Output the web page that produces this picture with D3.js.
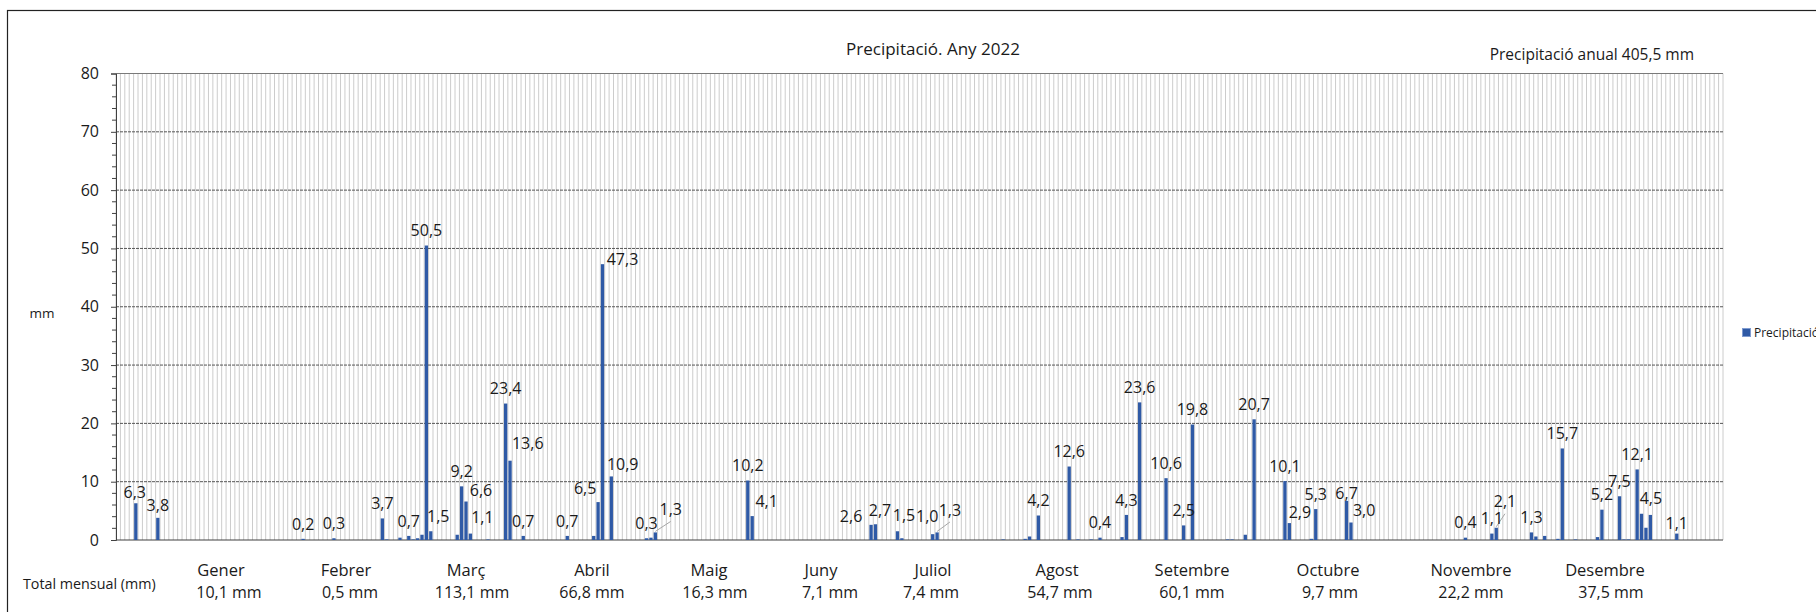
<!DOCTYPE html>
<html><head><meta charset="utf-8">
<script src="https://cdn.jsdelivr.net/npm/d3@7"></script>
<style>
body{margin:0;background:#fff}
svg{display:block}
text{font-family:"Open Sans","Noto Sans",sans-serif;fill:#1a1a1a}
</style>
</head><body>
<svg id="chart" width="1816" height="612"></svg>
<script>
// ---------------- DATA ----------------
const year = 2022;
const chartTitle = "Precipitació. Any 2022";
const annualLabel = "Precipitació anual";
const annualTotal = 405.5;
const seriesName = "Precipitació";
const yAxisTitle = "mm";
const totalsTitle = "Total mensual (mm)";
const months = ["Gener","Febrer","Març","Abril","Maig","Juny","Juliol","Agost","Setembre","Octubre","Novembre","Desembre"];
const monthTotals = [10.1,0.5,113.1,66.8,16.3,7.1,7.4,54.7,60.1,9.7,22.2,37.5];
const yTicks = [0,10,20,30,40,50,60,70,80];

// rainy days (MM-DD) and daily precipitation (mm); all other days are 0
const rainDates = [
 "01-05","01-10",
 "02-12","02-19",
 "03-02","03-03","03-06","03-08","03-09","03-10","03-11","03-12","03-13","03-19","03-20","03-21","03-22","03-26","03-30","03-31",
 "04-03","04-13","04-19","04-20","04-21","04-23",
 "05-01","05-02","05-03","05-24","05-25",
 "06-21","06-22","06-27","06-28",
 "07-05","07-06","07-21","07-26","07-27","07-29",
 "08-05","08-07","08-10","08-12","08-17","08-18","08-21","08-27","08-31",
 "09-02","09-10","09-11","09-14","09-16","09-23","09-24","09-29","09-30",
 "10-07","10-08",
 "11-03","11-09","11-10","11-18","11-19","11-21","11-24","11-25","11-28",
 "12-03","12-04","12-08","12-09","12-10","12-12","12-13","12-14","12-15","12-21"
];
const rainMm = [
 6.3,3.8,
 0.2,0.3,
 3.7,0.1,0.4,0.7,0.1,0.3,0.9,50.5,1.5,0.9,9.2,6.6,1.1,0.1,23.4,13.6,
 0.7,0.7,0.7,6.5,47.3,10.9,
 0.3,0.4,1.3,10.2,4.1,
 2.6,2.7,1.5,0.3,
 1.0,1.3,0.1,0.2,0.6,4.2,
 12.6,0.1,0.1,0.4,0.5,4.3,23.6,10.6,2.5,
 19.8,0.1,0.1,0.9,20.7,10.1,2.9,0.2,5.3,
 6.7,3.0,
 0.4,1.1,2.1,1.3,0.6,0.7,0.2,15.7,0.1,
 0.5,5.2,7.5,0.1,0.1,12.1,4.5,2.1,4.3,1.1
];
// days that carry a value label
const labeledDates = [
 "01-05","01-10","02-12","02-19","03-02","03-08","03-12","03-13","03-20","03-21","03-22","03-30","03-31",
 "04-03","04-13","04-20","04-21","04-23","05-01","05-03","05-24","05-25","06-21","06-22","06-27",
 "07-05","07-06","07-29","08-05","08-12","08-18","08-21","08-27","08-31","09-02","09-16","09-23","09-24","09-30",
 "10-07","10-08","11-03","11-09","11-10","11-18","11-25","12-04","12-08","12-12","12-13","12-21"
];

// ---------------- LAYOUT ----------------
const W = 1816, H = 612;
const plot = {left:116, right:1723, top:73.5, bottom:540};
const barColor = "#2f5aa6";
// manual label displacements [dx, dy, leaderLine]
const labelShift = {
 "01-05":[-1,4],"01-10":[0,2],"03-13":[7.5,0],"03-21":[15,4],"03-22":[12,-1],"03-31":[17.7,-2.4],
 "04-20":[-13,1],"04-21":[20,10],"04-23":[11.4,3],"05-03":[15.4,-8,true],"05-25":[14.5,0],
 "06-21":[-20,6],"06-22":[4.5,0.7],"06-27":[6.5,-1],"07-05":[-5.5,-2.5],"07-06":[12.8,-7.4,true],
 "09-24":[10.6,4.6],"10-07":[0,7.4],"10-08":[13.2,3.2],"11-10":[8.7,-11,true],"12-13":[9.4,0],"12-21":[0,4.7]
};
const monthNameX  = [221,346,466,592,709,821,933,1057,1192,1328,1471,1605];
const monthTotalX = [229,350,472,592,715,830,931,1060,1192,1330,1471,1611];

// ---------------- BUILD ----------------
const fmtLocale = d3.formatLocale({decimal:",", thousands:".", grouping:[3], currency:["","€"]});
const f1 = fmtLocale.format(".1f");
const parse = d3.timeParse("%Y-%m-%d");
const yearStart = new Date(year,0,1);
const days = d3.timeDays(yearStart, new Date(year+1,0,1));
const dayIndex = md => d3.timeDay.count(yearStart, parse(year + "-" + md));

const series = rainDates.map((md,i) => ({md, i: dayIndex(md), v: rainMm[i]}));
const byMd = new Map(series.map(d => [d.md, d]));

const svg = d3.select("#chart");
svg.append("rect").attr("width",W).attr("height",H).attr("fill","#fff");
// outer frame
svg.append("rect").attr("x",7.5).attr("y",10.5).attr("width",W).attr("height",H)
  .attr("fill","none").attr("stroke","#222").attr("stroke-width",1.2);

const x = d3.scaleBand().domain(d3.range(days.length)).range([plot.left, plot.right])
  .paddingInner(0.25).paddingOuter(0.125);
const y = d3.scaleLinear().domain([0,80]).range([plot.bottom, plot.top]);

// vertical day gridlines
const g = svg.append("g");
g.selectAll("line.vg").data(d3.range(days.length+1)).join("line")
  .attr("class","vg")
  .attr("x1", i => plot.left + i*x.step()).attr("x2", i => plot.left + i*x.step())
  .attr("y1", y(80)).attr("y2", y(0))
  .attr("stroke","#cccccc").attr("stroke-width",1);

// horizontal gridlines
g.selectAll("line.hg").data(yTicks.filter(t => t>0)).join("line")
  .attr("class","hg")
  .attr("x1", plot.left).attr("x2", plot.right)
  .attr("y1", t => y(t)).attr("y2", t => y(t))
  .attr("stroke", t => t===80 ? "#7a7a7a" : "#555")
  .attr("stroke-width",1)
  .attr("stroke-dasharray", t => t===80 ? null : "3,1");

// y axis
const yAxis = d3.axisLeft(y).tickValues(yTicks).tickSize(5).tickPadding(12).tickFormat(d3.format("d"));
const ya = svg.append("g").attr("transform",`translate(${plot.left},0)`).call(yAxis);
ya.select(".domain").attr("stroke","#404040");
ya.selectAll(".tick line").attr("stroke","#404040");
ya.selectAll(".tick text").attr("font-size",16).attr("fill","#1a1a1a")
  .style("font-family",'"Open Sans",sans-serif');
// minor ticks
svg.append("g").selectAll("line").data(d3.range(0,81,2).filter(v => v%10!==0)).join("line")
  .attr("x1",plot.left-4).attr("x2",plot.left)
  .attr("y1",v=>y(v)).attr("y2",v=>y(v)).attr("stroke","#404040");

// x axis baseline
svg.append("line").attr("x1",plot.left).attr("x2",plot.right)
  .attr("y1",y(0)).attr("y2",y(0)).attr("stroke","#404040").attr("stroke-width",1.2);

// bars
svg.append("g").selectAll("rect").data(series).join("rect")
  .attr("x", d => x(d.i)).attr("width", x.bandwidth())
  .attr("y", d => y(d.v)).attr("height", d => y(0)-y(d.v))
  .attr("fill", barColor);

// labels
const lab = labeledDates.map(md => {
  const d = byMd.get(md);
  const s = labelShift[md] || [0,0,false];
  const cx = x(d.i) + x.bandwidth()/2;
  const top = y(d.v);
  return {d, cx, top, lx: cx + s[0], ly: top - 15 + s[1], leader: !!s[2]};
});
svg.append("g").selectAll("line").data(lab.filter(l => l.leader)).join("line")
  .attr("x1", l => l.cx).attr("y1", l => l.top - 1)
  .attr("x2", l => l.lx).attr("y2", l => l.ly + 12)
  .attr("stroke","#a6a6a6").attr("stroke-width",1);
svg.append("g").selectAll("text").data(lab).join("text")
  .attr("x", l => l.lx).attr("y", l => l.ly + 5.7)
  .attr("text-anchor","middle").attr("font-size",16)
  .text(l => f1(l.d.v));

// titles
svg.append("text").attr("x",933).attr("y",55).attr("text-anchor","middle")
  .attr("font-size",17).text(chartTitle);
svg.append("text").attr("x",1694).attr("y",60).attr("text-anchor","end")
  .attr("font-size",15.5).text(`${annualLabel} ${f1(annualTotal)} mm`);
svg.append("text").attr("x",42).attr("y",318).attr("text-anchor","middle")
  .attr("font-size",13.5).text(yAxisTitle);

// month names & totals
svg.append("text").attr("x",23).attr("y",589).attr("font-size",14.3).text(totalsTitle);
svg.append("g").selectAll("text").data(months).join("text")
  .attr("x",(m,i)=>monthNameX[i]).attr("y",576).attr("text-anchor","middle")
  .attr("font-size",16.5).text(m => m);
svg.append("g").selectAll("text").data(monthTotals).join("text")
  .attr("x",(t,i)=>monthTotalX[i]).attr("y",597.5).attr("text-anchor","middle")
  .attr("font-size",16).text(t => `${f1(t)} mm`);

// legend (clipped at right edge as in the original)
svg.append("rect").attr("x",1742.5).attr("y",328.5).attr("width",8).attr("height",8)
  .attr("fill",barColor).attr("stroke","#7f9bd0").attr("stroke-width",1);
svg.append("text").attr("x",1754).attr("y",337).attr("font-size",12).text(seriesName);
</script>
</body></html>
